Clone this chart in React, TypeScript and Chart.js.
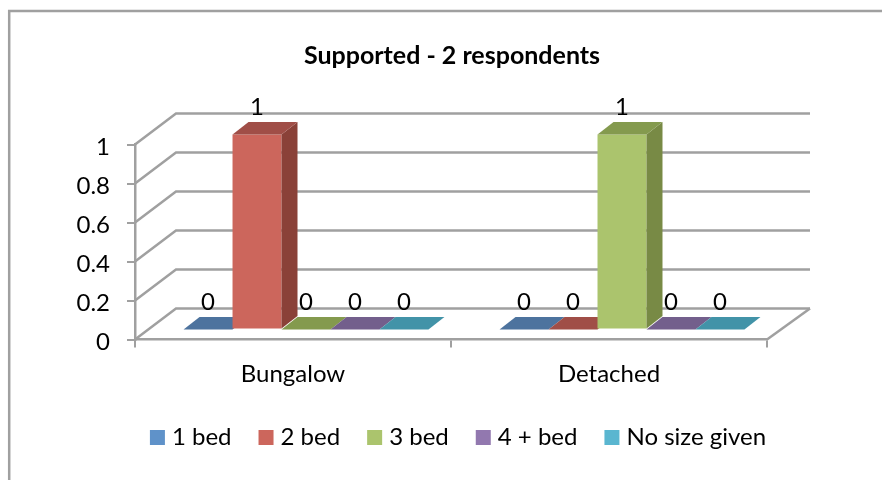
import React, { useEffect, useRef } from "react";
import { Chart, registerables } from "chart.js";

Chart.register(...registerables);

const categories = ["Bungalow", "Detached"];
const seriesNames = ["1 bed", "2 bed", "3 bed", "4 + bed", "No size given"];
const oneBed = [0, 0];
const twoBed = [1, 0];
const threeBed = [0, 1];
const fourBed = [0, 0];
const noSize = [0, 0];
const seriesValues = [oneBed, twoBed, threeBed, fourBed, noSize];
const frontColors = ["#5f92c9", "#cc665c", "#abc46d", "#9278af", "#5ab6d0"];
const topColors = ["#4d739e", "#a04e47", "#849a4e", "#735f8c", "#4293a8"];
const sideColors = ["#3f6288", "#8a4138", "#788a45", "#5f4e75", "#377f92"];

const FONT = "Lato, Carlito, sans-serif";
const GRID = "#a0a0a0";
const WALL = { dx: 41, dy: -31 };
const BAR_OFFSET = { dx: 13, dy: -10 };
const BAR_DEPTH = { dx: 16, dy: -12.5 };
const LEGEND_SHIFT = 12;

function poly(ctx: CanvasRenderingContext2D, pts: number[][], fill: string) {
  ctx.fillStyle = fill;
  ctx.beginPath();
  pts.forEach(([x, y], i) => (i ? ctx.lineTo(x, y) : ctx.moveTo(x, y)));
  ctx.closePath();
  ctx.fill();
}

const frame3d = {
  id: "frame3d",
  afterLayout(chart: any) {
    chart.legend.left += LEGEND_SHIFT;
  },
  beforeDraw(chart: any) {
    const { ctx } = chart;
    ctx.save();
    ctx.fillStyle = "#ffffff";
    ctx.fillRect(0, 0, chart.width, chart.height);
    ctx.strokeStyle = "#a0a0a0";
    ctx.lineWidth = 2.5;
    ctx.beginPath();
    ctx.moveTo(9.2, 480);
    ctx.lineTo(9.2, 11);
    ctx.lineTo(882, 11);
    ctx.stroke();
    ctx.restore();
  },
  beforeDatasetsDraw(chart: any) {
    const { ctx, chartArea, scales } = chart;
    const { left, right, bottom } = chartArea;
    ctx.save();
    ctx.strokeStyle = GRID;
    ctx.lineWidth = 2.5;
    ctx.lineCap = "butt";
    scales.y.ticks.forEach((t: any) => {
      const y = scales.y.getPixelForValue(t.value);
      ctx.beginPath();
      ctx.moveTo(left, y);
      ctx.lineTo(left + WALL.dx, y + WALL.dy);
      ctx.lineTo(right + WALL.dx + 2, y + WALL.dy);
      ctx.stroke();
    });
    ctx.beginPath();
    ctx.moveTo(right, bottom);
    ctx.lineTo(right + WALL.dx + 2, bottom + WALL.dy);
    ctx.stroke();
    ctx.restore();
  },
  // Datasets are painted first-to-last below, so that each front face covers
  // the previous series' floor tile.
  beforeDatasetDraw() {
    return false;
  },
  afterDatasetsDraw(chart: any) {
    const { ctx } = chart;
    seriesNames.forEach((_, i) => {
      ctx.save();
      ctx.translate(BAR_OFFSET.dx, BAR_OFFSET.dy);
      chart.getDatasetMeta(i).data.forEach((el: any) => {
        el.draw(ctx);
        const { x, y, base, width } = el.getProps(["x", "y", "base", "width"], true);
        const l = x - width / 2;
        const r = x + width / 2;
        const { dx, dy } = BAR_DEPTH;
        if (base - y > 0.5) {
          poly(ctx, [[r, y], [r + dx, y + dy], [r + dx, base + dy], [r, base]], sideColors[i]);
        }
        poly(ctx, [[l, y], [l + dx, y + dy], [r + dx, y + dy], [r, y]], topColors[i]);
      });
      ctx.restore();
    });
    ctx.save();
    ctx.fillStyle = "#000";
    ctx.font = `24px ${FONT}`;
    ctx.textAlign = "center";
    ctx.textBaseline = "middle";
    chart.data.datasets.forEach((ds: any, i: number) => {
      chart.getDatasetMeta(i).data.forEach((el: any, j: number) => {
        const { x, y } = el.getProps(["x", "y"], true);
        ctx.fillText(String(ds.data[j]), x + BAR_OFFSET.dx, y + BAR_OFFSET.dy - 27);
      });
    });
    ctx.restore();
  },
  afterDraw(chart: any) {
    const { ctx, legend } = chart;
    ctx.save();
    legend.legendHitBoxes.forEach((b: any, k: number) => {
      ctx.fillStyle = frontColors[legend.legendItems[k].datasetIndex];
      ctx.fillRect(b.left, b.top + b.height / 2 - 7.5, 15, 15);
    });
    ctx.restore();
  },
};

export default function App() {
  const ref = useRef<HTMLCanvasElement>(null);
  useEffect(() => {
    const chart = new Chart(ref.current!, {
      type: "bar",
      data: {
        labels: categories,
        datasets: seriesNames.map((name, i) => ({
          label: name,
          data: seriesValues[i],
          backgroundColor: frontColors[i],
          categoryPercentage: 0.775,
          barPercentage: 1,
        })),
      },
      plugins: [frame3d],
      options: {
        responsive: false,
        animation: false,
        events: [],
        layout: { padding: { left: 22, right: 0, top: 0, bottom: 20.5 } },
        scales: {
          x: {
            grid: { drawOnChartArea: false, color: GRID, lineWidth: 2, tickLength: 8 },
            border: { color: GRID, width: 2.5 },
            ticks: { color: "#000", font: { family: FONT, size: 24 }, padding: 12, maxRotation: 0 },
            afterFit: (s: any) => { s.height = 59; },
          },
          y: {
            min: 0,
            max: 1,
            ticks: {
              stepSize: 0.2,
              color: "#000",
              font: { family: FONT, size: 24 },
              padding: 17,
              labelOffset: 3,
              callback: (v: any) => String(Number(Number(v).toFixed(1))),
            },
            grid: { drawOnChartArea: false, color: GRID, lineWidth: 2, tickLength: 8 },
            border: { color: GRID, width: 2.5 },
            afterFit: (s: any) => { s.width = 113; },
          },
          spacer: {
            position: "right",
            min: 0,
            max: 1,
            grid: { display: false },
            border: { display: false },
            ticks: { display: false },
            afterFit: (s: any) => { s.width = 115; },
          },
        },
        plugins: {
          title: {
            display: true,
            text: "Supported - 2 respondents",
            color: "#000",
            font: { family: FONT, size: 25, weight: "bold" },
            padding: { top: 41, bottom: 73.5 },
          },
          legend: {
            display: true,
            position: "bottom",
            labels: {
              color: "#000",
              font: { family: FONT, size: 24 },
              boxWidth: 10,
              boxHeight: 15,
              padding: 27,
              generateLabels: (c: any) =>
                c.data.datasets.map((d: any, i: number) => ({
                  text: d.label,
                  datasetIndex: i,
                  fillStyle: "rgba(0,0,0,0)",
                  strokeStyle: "rgba(0,0,0,0)",
                  lineWidth: 0,
                  fontColor: "#000",
                })),
            },
          },
          tooltip: { enabled: false },
        },
      } as any,
    });
    return () => chart.destroy();
  }, []);
  return (
    <div style={{ position: "fixed", left: 0, top: 0, width: 882, height: 480 }}>
      <canvas ref={ref} width={882} height={480} style={{ display: "block" }} />
    </div>
  );
}
